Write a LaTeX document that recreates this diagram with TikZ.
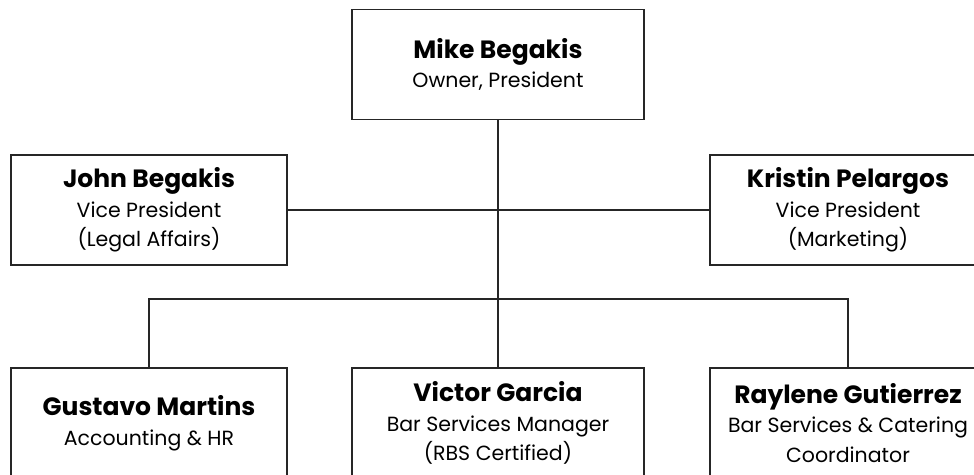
\documentclass[tikz,border=0pt]{standalone}
\usepackage{fontspec}
\setmainfont{Poppins}
\begin{document}
\begin{tikzpicture}[x=1pt,y=1pt,
  person/.style={draw=black!85, line width=1.4pt, fill=white, inner sep=0pt,
    minimum height=110pt, align=center, font=\fontsize{20.5}{29.5}\selectfont},
  wide/.style={person, minimum width=292pt},
  narrow/.style={person, minimum width=276pt},
  link/.style={draw=black!85, line width=1.4pt}]
\useasboundingbox (0,0) rectangle (974,-474);
\clip (0,0) rectangle (974,-474);
\fill[white] (0,0) rectangle (974,-474);
\newcommand{\nm}[1]{{\fontsize{25}{29.5}\selectfont\bfseries #1}}
\node[wide]   (mike)    at (498,-64.5) {\nm{Mike Begakis}\\Owner, President};
\node[narrow] (john)    at (149,-210)  {\nm{John Begakis}\\Vice President\\(Legal Affairs)};
\node[narrow] (kristin) at (848,-210)  {\nm{Kristin Pelargos}\\Vice President\\(Marketing)};
\node[narrow] (gustavo) at (149,-423)  {\nm{Gustavo Martins}\\Accounting \& HR};
\node[wide]   (victor)  at (498,-423)  {\nm{Victor Garcia}\\Bar Services Manager\\(RBS Certified)};
\node[narrow] (raylene) at (848,-423)  {\nm{Raylene Gutierrez}\\Bar Services \& Catering\\Coordinator};
\coordinate (bus) at (498,-299);
\draw[link] (mike.south) -- (victor.north);
\draw[link] (john.east) -- (kristin.west);
\draw[link] (gustavo.north) |- (bus) -| (raylene.north);
\end{tikzpicture}
\end{document}
